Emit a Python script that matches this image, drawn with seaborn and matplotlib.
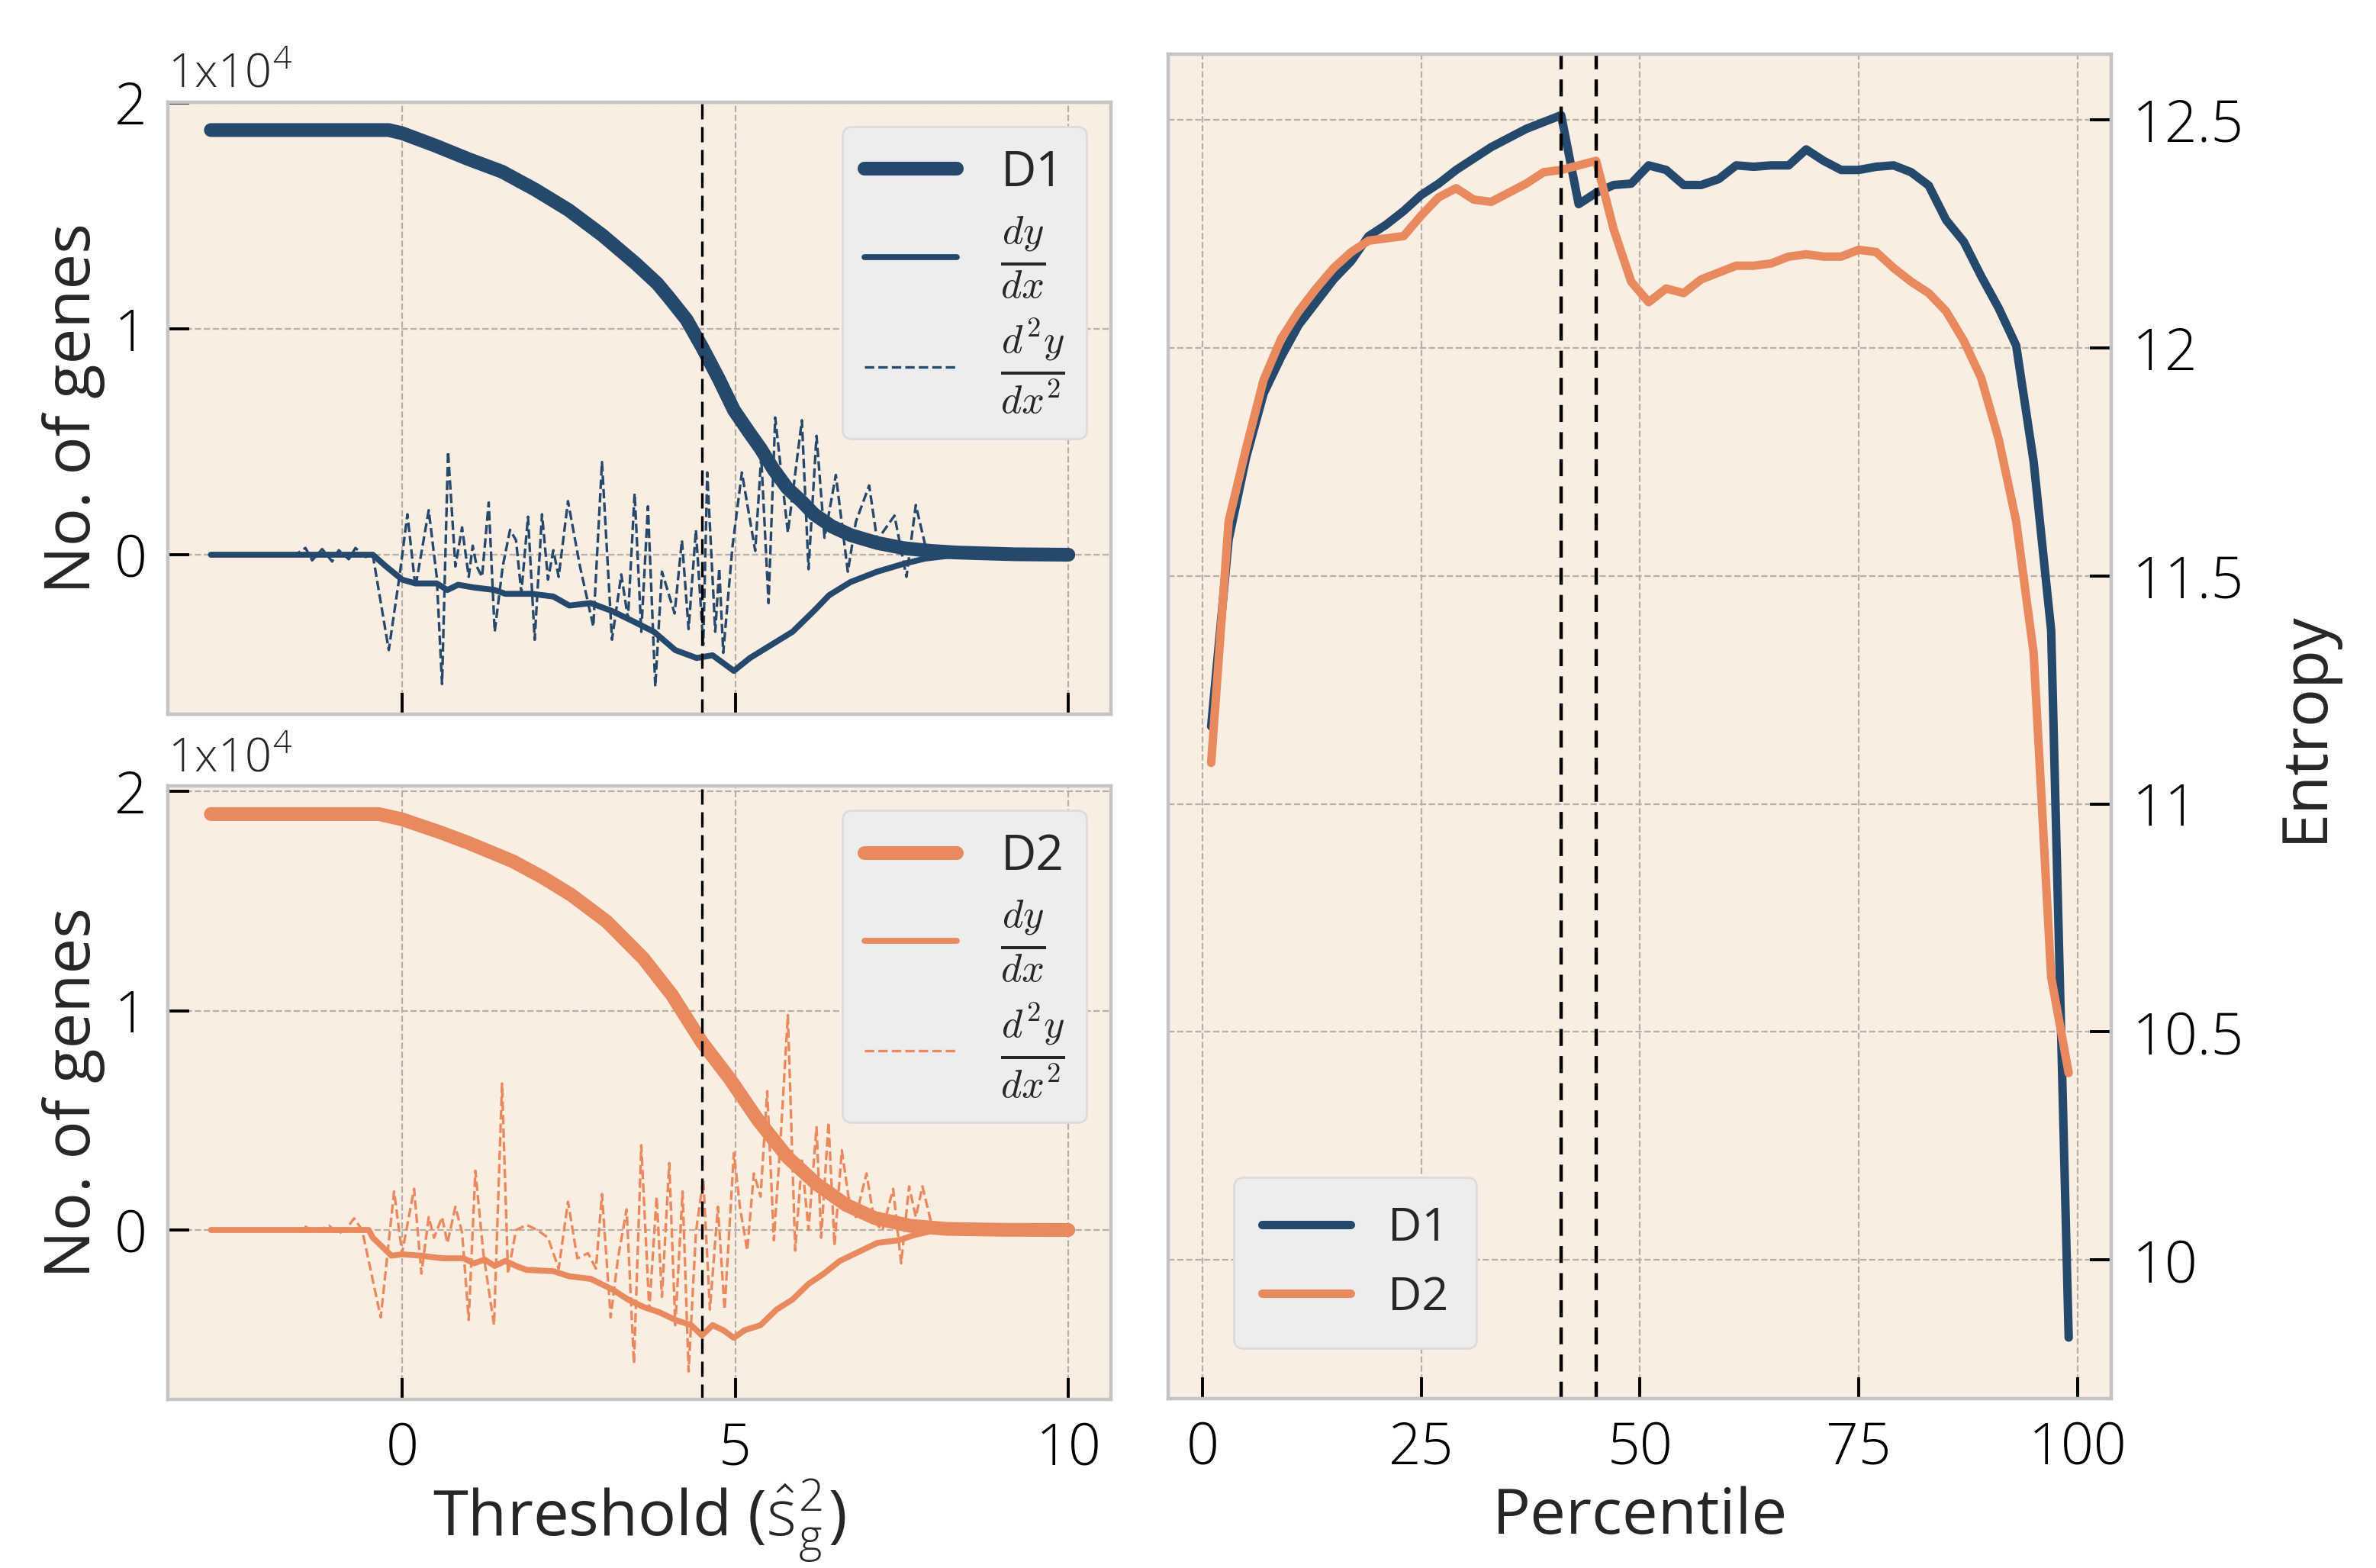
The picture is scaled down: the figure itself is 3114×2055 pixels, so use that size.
import matplotlib
matplotlib.use("Agg")
import matplotlib.pyplot as plt
from matplotlib.ticker import FuncFormatter
import seaborn as sns

# ==============================
# Data
# ==============================
# D1: number of genes above threshold and its derivatives
thr_n_d1 = [-2.87, -0.2, 0.0, 0.5, 1.0, 1.5, 2.0, 2.5, 3.0, 3.5, 3.83, 4.0, 4.27, 4.5, 4.75,
            4.98, 5.2, 5.38, 5.58, 5.78, 6.0, 6.18, 6.45, 6.73, 7.13, 7.53, 7.93, 8.3, 8.73, 9.2, 10.0]
genes_d1 = [18790, 18790, 18650, 18100, 17500, 16950, 16150, 15250, 14150, 12900, 12000, 11400,
            10400, 9200, 7800, 6400, 5450, 4700, 3750, 2950, 2350, 1800, 1250, 870, 520, 290,
            170, 100, 60, 20, 0]

thr_dy_d1 = [-2.87, -0.44, -0.24, 0.0, 0.2, 0.52, 0.68, 0.84, 1.08, 1.39, 1.55, 1.95, 2.27, 2.51,
             2.83, 3.15, 3.47, 3.78, 4.1, 4.42, 4.66, 4.98, 5.22, 5.54, 5.86, 6.18, 6.41, 6.73,
             7.13, 7.53, 7.85, 8.17, 8.6, 10.0]
dy_d1 = [0, 0, -520, -1100, -1270, -1270, -1560, -1330, -1450, -1560, -1730, -1730, -1850, -2250,
         -2140, -2490, -2950, -3410, -4220, -4570, -4450, -5140, -4570, -3990, -3410, -2490,
         -1790, -1210, -750, -400, -170, -60, 0, 0]

thr_d2_d1 = [-2.87, -1.6, -1.45, -1.35, -1.2, -1.05, -0.95, -0.8, -0.7, -0.55, -0.44, -0.2, -0.04,
             0.08, 0.2, 0.4, 0.52, 0.6, 0.69, 0.8, 0.9, 1.0, 1.06, 1.12, 1.2, 1.3, 1.39, 1.51,
             1.62, 1.71, 1.79, 1.89, 1.99, 2.1, 2.19, 2.27, 2.35, 2.49, 2.67, 2.87, 3.0, 3.15,
             3.29, 3.39, 3.49, 3.59, 3.69, 3.8, 3.9, 4.09, 4.2, 4.3, 4.41, 4.52, 4.58, 4.7, 4.76,
             4.82, 4.96, 5.1, 5.3, 5.39, 5.5, 5.6, 5.79, 6.0, 6.1, 6.22, 6.34, 6.51, 6.69, 6.81,
             7.01, 7.13, 7.39, 7.57, 7.71, 7.89, 8.09, 8.41, 8.73, 10.0]
d2_d1 = [0, 0, 300, -250, 250, -300, 200, -200, 300, -100, 0, -4220, -980,
         1790, -1450, 1970, -980, -5720, 4570, -520, 1210, -980, 400, -520, -980, 2310, -3410, -520,
         1100, 640, -1680, 1680, -3760, 1790, -1100, 200, -980, 2370, -520, -3180, 4100, -3760,
         -870, -2830, 2720, -3410, 2140, -5840, -750, -2600, 640, -3290, 1100, -3990, 3640, -3410, -600,
         -4340, 400, 3640, 170, 4340, -2140, 6070, 980, 5950, -640, 5260, 750, 3530, -750, 1450,
         3060, 640, 1730, -980, 2200, -60, 400, 170, 120, 0]

# D2: number of genes above threshold and its derivatives
thr_n_d2 = [-2.87, -0.35, 0.0, 0.58, 1.0, 1.66, 2.1, 2.53, 3.07, 3.62, 4.05, 4.5, 4.92, 5.35,
            5.79, 6.22, 6.66, 7.09, 7.63, 8.18, 9.0, 10.0]
genes_d2 = [18970, 18970, 18730, 18130, 17650, 16820, 16100, 15300, 14070, 12390, 10720, 8560,
            6890, 4980, 3300, 2100, 1150, 550, 190, 50, 10, 0]

thr_dy_d2 = [-2.87, -0.5, -0.44, -0.16, 0.0, 0.28, 0.6, 0.92, 1.08, 1.24, 1.39, 1.55, 1.71, 1.87,
             2.27, 2.51, 2.83, 3.15, 3.39, 3.63, 3.86, 4.1, 4.34, 4.5, 4.66, 4.82, 4.98, 5.14,
             5.38, 5.62, 5.86, 6.1, 6.33, 6.57, 6.81, 7.13, 7.45, 7.69, 7.93, 8.2, 10.0]
dy_d2 = [0, 0, -350, -1170, -1110, -1170, -1290, -1290, -1520, -1350, -1640, -1410, -1640, -1820,
         -1880, -2110, -2230, -2700, -3170, -3520, -3750, -4100, -4340, -4810, -4340, -4570,
         -4920, -4570, -4340, -3630, -3170, -2460, -1990, -1410, -1060, -590, -470, -230, -60, 0, 0]

thr_d2_d2 = [-2.87, -1.6, -1.45, -1.3, -1.1, -0.95, -0.85, -0.72, -0.6, -0.32, -0.12, 0.0, 0.18,
             0.29, 0.4, 0.48, 0.6, 0.68, 0.8, 0.9, 1.0, 1.1, 1.22, 1.38, 1.5, 1.59, 1.71, 1.87,
             2.03, 2.19, 2.35, 2.49, 2.63, 2.79, 2.91, 3.0, 3.13, 3.24, 3.37, 3.48, 3.59, 3.71,
             3.82, 3.9, 4.01, 4.1, 4.21, 4.3, 4.41, 4.52, 4.62, 4.74, 4.84, 4.98, 5.07, 5.18,
             5.28, 5.38, 5.48, 5.58, 5.68, 5.79, 5.9, 6.0, 6.1, 6.22, 6.29, 6.4, 6.49, 6.6, 6.7,
             6.81, 6.97, 7.09, 7.21, 7.37, 7.49, 7.61, 7.71, 7.81, 7.93, 8.05, 8.5, 8.9, 9.1, 10.0]
d2_d2 = [0, 0, 150, -100, 200, -150, 0, 530, 0, -3990, 1760, -1060, 1880,
         -1990, 590, -350, 590, -600, 1060, -100, -4100, 2700, -1060, -4340, 6680, -1990, 0, 230,
         0, -350, -1760, 1290, -1290, -1060, -1760, 1640, -3990, -1290, 940, -6100, 3870, -3630,
         1520, -3050, 3050, -4340, 1760, -6450, -100, 2340, -3630, 1060, -3630, 3520, 1060, -940,
         2580, 1520, 6330, -470, 4100, 9800, -940, 3170, 0, 4690, -350, 4920, -700, 3630, 1520,
         590, 2580, 350, 0, 1880, -1520, 1990, 590, 1990, 470, 0, 0, 120, 0, 0]

threshold_cut = 4.5

# Entropy per percentile
percentile = list(range(1, 100, 2))
entropy_d1 = [11.17, 11.58, 11.76, 11.90, 11.98, 12.05, 12.10, 12.15, 12.19, 12.245,
              12.27, 12.30, 12.335, 12.36, 12.39, 12.415, 12.44, 12.46, 12.48, 12.495,
              12.51, 12.315, 12.34, 12.357, 12.36, 12.40, 12.39, 12.357, 12.357, 12.37,
              12.40, 12.397, 12.40, 12.40, 12.435, 12.41, 12.39, 12.39, 12.397, 12.40,
              12.385, 12.356, 12.28, 12.233, 12.157, 12.087, 12.005, 11.75, 11.38, 9.83]
entropy_d2 = [11.09, 11.62, 11.78, 11.93, 12.02, 12.08, 12.13, 12.175, 12.21, 12.235,
              12.24, 12.245, 12.29, 12.33, 12.35, 12.325, 12.32, 12.34, 12.36, 12.385,
              12.39, 12.40, 12.41, 12.26, 12.145, 12.10, 12.13, 12.12, 12.15, 12.165,
              12.18, 12.18, 12.185, 12.20, 12.205, 12.20, 12.20, 12.215, 12.21, 12.175,
              12.145, 12.12, 12.08, 12.016, 11.934, 11.80, 11.62, 11.33, 10.62, 10.41]

# ==============================
# Style
# ==============================
BLUE = "#24496C"
ORANGE = "#E98A5E"
BG = "#FAEDE2"

sns.set_theme(style="ticks", rc={
    "axes.facecolor": BG,
    "axes.edgecolor": "#C4C4C4",
    "axes.linewidth": 1.6,
    "axes.grid": True,
    "grid.color": "#B8B0A8",
    "grid.linestyle": "--",
    "grid.linewidth": 0.8,
    "xtick.direction": "in",
    "ytick.direction": "in",
    "xtick.major.size": 10,
    "ytick.major.size": 10,
    "xtick.major.width": 1.4,
    "ytick.major.width": 1.4,
    "xtick.color": "black",
    "ytick.color": "black",
})
plt.rcParams["font.family"] = ["Open Sans", "DejaVu Sans"]
plt.rcParams["font.weight"] = "light"
plt.rcParams["mathtext.fontset"] = "custom"
plt.rcParams["mathtext.it"] = "cmmi10"
plt.rcParams["mathtext.rm"] = "cmr10"
plt.rcParams["mathtext.sf"] = "Open Sans"

TICK_FS = 27
LABEL_FS = 30
LEG_FS = 23

fig = plt.figure(figsize=(15.57, 10.275), dpi=200)
ax_top = fig.add_axes([0.0707, 0.5443, 0.397, 0.3905])
ax_bot = fig.add_axes([0.0707, 0.1076, 0.397, 0.391], sharex=ax_top)
ax_ent = fig.add_axes([0.4917, 0.108, 0.397, 0.8575])


def gene_panel(ax, x_n, n, x_dy, dy, x_d2, d2, color, name):
    sns.lineplot(x=x_n, y=n, ax=ax, color=color, lw=6.5, label=name)
    sns.lineplot(x=x_dy, y=dy, ax=ax, color=color, lw=2.8, label=r"$\frac{dy}{dx}$")
    sns.lineplot(x=x_d2, y=d2, ax=ax, color=color, lw=1.2, linestyle="--",
                 label=r"$\frac{d^2y}{dx^2}$")
    ax.axvline(threshold_cut, color="black", lw=1.2, dashes=(6, 3))
    ax.set_yticks([0, 1e4, 2e4])
    ax.yaxis.set_major_formatter(FuncFormatter(lambda v, p: f"{v / 1e4:g}"))
    ax.set_xticks([0, 5, 10])
    ax.tick_params(labelsize=TICK_FS, pad=10)
    ax.set_ylabel("No. of genes", fontsize=LABEL_FS)
    ax.text(0.0, 1.005, "1x10$^{\\mathsf{4}}$", transform=ax.transAxes,
            ha="left", va="bottom", fontsize=22)
    leg = ax.legend(loc="upper right", prop={"size": LEG_FS, "weight": "normal"},
                    facecolor="#EDEDED", edgecolor="#DCDCDC", framealpha=1,
                    handlelength=1.9, labelspacing=0.35, borderpad=0.45, handletextpad=0.9)
    for t in leg.get_texts()[1:]:
        t.set_fontsize(27)


gene_panel(ax_top, thr_n_d1, genes_d1, thr_dy_d1, dy_d1, thr_d2_d1, d2_d1, BLUE, "D1")
gene_panel(ax_bot, thr_n_d2, genes_d2, thr_dy_d2, dy_d2, thr_d2_d2, d2_d2, ORANGE, "D2")
ax_top.tick_params(labelbottom=False)
ax_top.set_xlabel("")
ax_bot.set_xlabel(r"Threshold ($\mathsf{\hat{s}}^{\mathsf{2}}_{\mathsf{g}}$)", fontsize=LABEL_FS,
                  labelpad=0)

# Entropy panel
sns.lineplot(x=percentile, y=entropy_d1, ax=ax_ent, color=BLUE, lw=4, label="D1")
sns.lineplot(x=percentile, y=entropy_d2, ax=ax_ent, color=ORANGE, lw=4, label="D2")
best_d1 = percentile[entropy_d1.index(max(entropy_d1))]
best_d2 = percentile[entropy_d2.index(max(entropy_d2))]
for p in (best_d1, best_d2):
    ax_ent.axvline(p, color="black", lw=1.6, dashes=(5, 3))
ax_ent.yaxis.tick_right()
ax_ent.yaxis.set_label_position("right")
ax_ent.set_xticks([0, 25, 50, 75, 100])
ax_ent.set_yticks([10, 10.5, 11, 11.5, 12, 12.5])
ax_ent.yaxis.set_major_formatter(FuncFormatter(lambda v, p: f"{v:g}"))
ax_ent.tick_params(labelsize=TICK_FS, pad=10)
ax_ent.set_xlabel("Percentile", fontsize=LABEL_FS)
ax_ent.set_ylabel("Entropy", fontsize=LABEL_FS, labelpad=14)
ax_ent.legend(loc="lower left", bbox_to_anchor=(0.045, 0.02),
              prop={"size": 22, "weight": "normal"}, facecolor="#EDEDED",
              edgecolor="#DCDCDC", framealpha=1, handlelength=1.9, labelspacing=0.5,
              borderpad=0.6)

fig.savefig("out.png", dpi=200)
